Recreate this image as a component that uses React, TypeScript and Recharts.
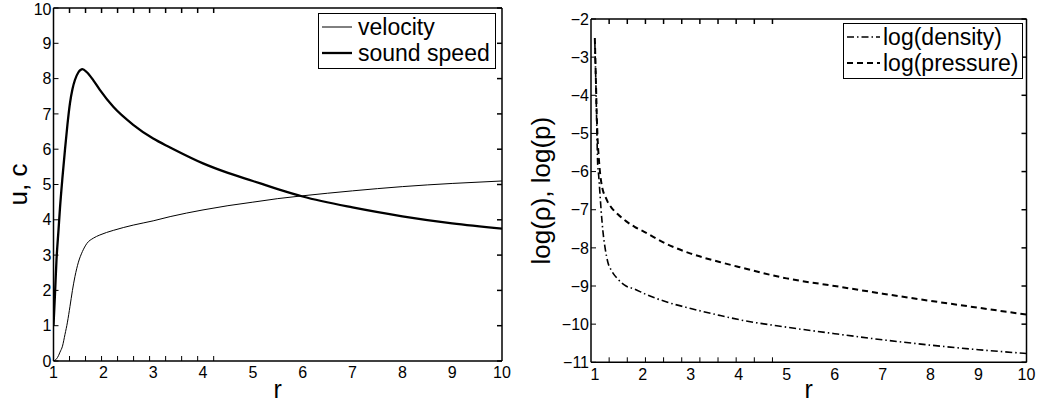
import { LineChart, Line, XAxis, YAxis, Legend } from "recharts";

const FONT = "'Liberation Sans', Arial, Helvetica, sans-serif";

// left panel: velocity and sound speed against r
const rLeft = [1, 1.03, 1.06, 1.1, 1.13, 1.18, 1.23, 1.28, 1.33, 1.38, 1.43, 1.5, 1.58, 1.67, 1.8, 1.93, 2.2, 2.6, 3, 3.34, 4, 4.5, 5, 5.5, 6, 7, 8, 9, 10];
const velocity = [0, 0.02, 0.06, 0.15, 0.25, 0.42, 0.75, 1.1, 1.54, 2.0, 2.39, 2.8, 3.1, 3.33, 3.48, 3.57, 3.7, 3.85, 3.97, 4.09, 4.28, 4.4, 4.5, 4.6, 4.68, 4.82, 4.94, 5.03, 5.1];
const soundSpeed = [1.0, 1.9, 2.86, 3.7, 4.33, 5.2, 5.98, 6.7, 7.3, 7.7, 7.96, 8.18, 8.27, 8.18, 7.95, 7.68, 7.2, 6.69, 6.3, 6.05, 5.6, 5.33, 5.1, 4.87, 4.66, 4.35, 4.1, 3.9, 3.75];

// right panel: log density and log pressure against r
const rRight = [1, 1.02, 1.04, 1.06, 1.08, 1.1, 1.13, 1.17, 1.22, 1.27, 1.35, 1.48, 1.65, 1.83, 2.03, 2.5, 3, 3.6, 4, 5, 6, 7, 8, 9, 10];
const logDensity = [-2.6, -3.6, -4.8, -5.83, -6.1, -6.45, -7.0, -7.58, -8.05, -8.37, -8.6, -8.82, -9.0, -9.08, -9.2, -9.42, -9.59, -9.77, -9.88, -10.08, -10.25, -10.41, -10.55, -10.67, -10.77];
const logPressure = [-2.5, -3.5, -4.5, -5.2, -5.6, -5.92, -6.25, -6.5, -6.66, -6.8, -6.95, -7.12, -7.3, -7.45, -7.58, -7.9, -8.15, -8.37, -8.5, -8.8, -9.0, -9.2, -9.39, -9.57, -9.75];

const rTicks = [1, 2, 3, 4, 5, 6, 7, 8, 9, 10];
const leftYTicks = [0, 1, 2, 3, 4, 5, 6, 7, 8, 9, 10];
const rightYTicks = [-11, -10, -9, -8, -7, -6, -5, -4, -3, -2];

const leftData = rLeft.map((r, i) => ({ r, velocity: velocity[i], sound: soundSpeed[i] }));
const rightData = rRight.map((r, i) => ({ r, density: logDensity[i], pressure: logPressure[i] }));

const tickStyle = { fill: "#000", fontSize: 16, fontFamily: FONT };
const minus = (v: number) => String(v).replace("-", "\u2212");
const blank = () => "";

type LegendItem = { label: string; width: number; dash?: string };

function BoxLegend({ items, width, height, lineLen }: { items: LegendItem[]; width: number; height: number; lineLen: number }) {
  return (
    <svg width={width} height={height} style={{ display: "block" }}>
      <rect x={0.5} y={0.5} width={width - 1} height={height - 1} fill="#fff" stroke="#000" strokeWidth={1} />
      {items.map((it, i) => {
        const y = 14 + i * 26;
        return (
          <g key={it.label}>
            <line x1={4} x2={4 + lineLen} y1={y} y2={y} stroke="#000" strokeWidth={it.width} strokeDasharray={it.dash} />
            <text x={40} y={y} dominantBaseline="central" fontSize={23} fontFamily={FONT} fill="#000">
              {it.label}
            </text>
          </g>
        );
      })}
    </svg>
  );
}

const yLabel = (text: string, bx: number) => (props: any) => {
  const vb = props.viewBox;
  const cy = vb.y + vb.height / 2;
  return (
    <text x={bx} y={cy} transform={`rotate(-90 ${bx} ${cy})`} textAnchor="middle" fontSize={26} fontFamily={FONT} fill="#000">
      {text}
    </text>
  );
};

const xLabel = (props: any) => {
  const vb = props.viewBox;
  return (
    <text x={vb.x + vb.width / 2} y={398} textAnchor="middle" fontSize={25} fontFamily={FONT} fill="#000">
      r
    </text>
  );
};

// inward tick marks on all four sides of a box
function boxTicks(xDomain: number[], yDomain: number[], yTicks: number[]) {
  const common = {
    tickFormatter: blank,
    tickSize: 5,
    mirror: true,
    stroke: "#000",
    allowDataOverflow: true,
    type: "number" as const,
  };
  return [
    <XAxis key="bt" xAxisId="bt" orientation="bottom" height={5} domain={xDomain} ticks={rTicks} axisLine={false} {...common} />,
    <XAxis key="tt" xAxisId="tt" orientation="top" height={5} domain={xDomain} ticks={rTicks} strokeWidth={1.5} {...common} />,
    <YAxis key="lt" yAxisId="lt" orientation="left" width={5} domain={yDomain} ticks={yTicks} axisLine={false} {...common} />,
    <YAxis key="rt" yAxisId="rt" orientation="right" width={5} domain={yDomain} ticks={yTicks} strokeWidth={1.5} {...common} />,
  ];
}

export default function App() {
  return (
    <div style={{ position: "absolute", left: 0, top: 0, width: 1037, height: 404, background: "#fff" }}>
      <div style={{ position: "absolute", left: 0, top: 0 }}>
        <LineChart width={520} height={404} data={leftData} margin={{ top: 8, right: 18, bottom: 0, left: 0 }}>
          <XAxis
            dataKey="r"
            type="number"
            domain={[1, 10]}
            allowDataOverflow
            ticks={rTicks}
            height={43}
            tickLine={false}
            tickSize={0}
            tickMargin={6}
            tick={tickStyle}
            stroke="#000"
            strokeWidth={1.5}
            label={xLabel}
          />
          <YAxis
            type="number"
            domain={[0, 10]}
            allowDataOverflow
            ticks={leftYTicks}
            width={53.5}
            tickLine={false}
            tickSize={0}
            tickMargin={2}
            tick={tickStyle}
            stroke="#000"
            strokeWidth={1.5}
            label={yLabel("u, c", 27)}
          />
          {boxTicks([1, 10], [0, 10], leftYTicks)}
          <Line dataKey="velocity" type="monotone" stroke="#000" strokeWidth={1} dot={false} isAnimationActive={false} />
          <Line dataKey="sound" type="monotone" stroke="#000" strokeWidth={2.3} dot={false} isAnimationActive={false} />
          <Legend
            layout="vertical"
            align="center"
            verticalAlign="middle"
            wrapperStyle={{ left: 318, top: 13, width: 178, height: 56 }}
            content={() => (
              <BoxLegend
                width={178}
                height={56}
                lineLen={30}
                items={[
                  { label: "velocity", width: 1 },
                  { label: "sound speed", width: 2.3 },
                ]}
              />
            )}
          />
        </LineChart>
      </div>
      <div style={{ position: "absolute", left: 520, top: 0 }}>
        <LineChart width={517} height={404} data={rightData} margin={{ top: 19, right: 10.5, bottom: 0, left: 0 }}>
          <XAxis
            dataKey="r"
            type="number"
            domain={[0.92, 10]}
            allowDataOverflow
            ticks={rTicks}
            height={41.7}
            tickLine={false}
            tickSize={0}
            tickMargin={6}
            tick={tickStyle}
            stroke="#000"
            strokeWidth={1.5}
            label={xLabel}
          />
          <YAxis
            type="number"
            domain={[-11, -2]}
            allowDataOverflow
            ticks={rightYTicks}
            width={71}
            tickLine={false}
            tickSize={0}
            tickMargin={2}
            tick={tickStyle}
            tickFormatter={minus}
            stroke="#000"
            strokeWidth={1.5}
            label={yLabel("log(\u03c1), log(p)", 30)}
          />
          {boxTicks([0.92, 10], [-11, -2], rightYTicks)}
          <Line dataKey="density" type="monotone" stroke="#000" strokeWidth={1.6} strokeDasharray="7 3 1.5 3" dot={false} isAnimationActive={false} />
          <Line dataKey="pressure" type="monotone" stroke="#000" strokeWidth={2} strokeDasharray="6 4" dot={false} isAnimationActive={false} />
          <Legend
            layout="vertical"
            align="center"
            verticalAlign="middle"
            wrapperStyle={{ left: 323, top: 23, width: 180, height: 56 }}
            content={() => (
              <BoxLegend
                width={180}
                height={56}
                lineLen={33}
                items={[
                  { label: "log(density)", width: 1.6, dash: "7 3 1.5 3" },
                  { label: "log(pressure)", width: 2, dash: "6 4" },
                ]}
              />
            )}
          />
        </LineChart>
      </div>
    </div>
  );
}
